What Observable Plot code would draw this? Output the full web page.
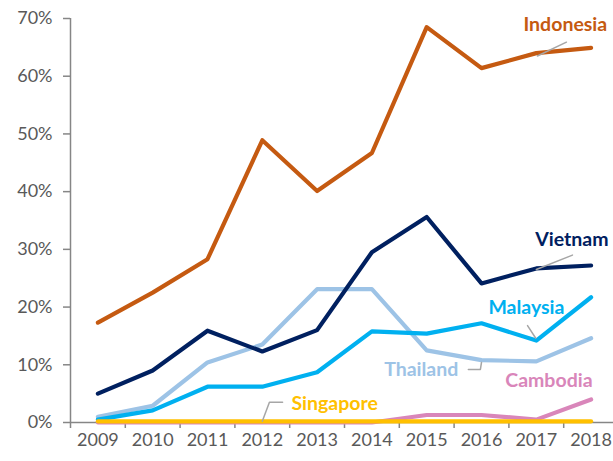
<!DOCTYPE html>
<html>
<head>
<meta charset="utf-8">
<script src="https://cdn.jsdelivr.net/npm/d3@7"></script>
<script src="https://cdn.jsdelivr.net/npm/@observablehq/plot@0.6"></script>
<style>
  html, body { margin: 0; padding: 0; background: #fff; }
</style>
</head>
<body>
<div id="chart"></div>
<script>
const years = [2009, 2010, 2011, 2012, 2013, 2014, 2015, 2016, 2017, 2018];
const indonesia = [0.173, 0.225, 0.283, 0.489, 0.401, 0.467, 0.685, 0.614, 0.640, 0.649];
const vietnam   = [0.050, 0.090, 0.159, 0.123, 0.160, 0.295, 0.356, 0.241, 0.267, 0.272];
const malaysia  = [0.005, 0.021, 0.062, 0.062, 0.087, 0.158, 0.154, 0.172, 0.142, 0.217];
const thailand  = [0.010, 0.029, 0.104, 0.135, 0.231, 0.231, 0.125, 0.108, 0.106, 0.146];
const cambodia  = [0.000, 0.000, 0.000, 0.000, 0.000, 0.000, 0.013, 0.013, 0.005, 0.040];
const singapore = [0.002, 0.002, 0.002, 0.002, 0.002, 0.002, 0.002, 0.002, 0.002, 0.002];

const yTicks = [0, 0.1, 0.2, 0.3, 0.4, 0.5, 0.6, 0.7];
const xBoundaries = [2008.5, 2009.5, 2010.5, 2011.5, 2012.5, 2013.5, 2014.5, 2015.5, 2016.5, 2017.5];

// draw order (bottom to top)
const seriesNames = ["Thailand", "Malaysia", "Vietnam", "Indonesia", "Cambodia", "Singapore"];
const seriesValues = [thailand, malaysia, vietnam, indonesia, cambodia, singapore];
const seriesColors = ["#9DC3E6", "#00B0F0", "#002060", "#C55A11", "#D986BA", "#FFC000"];

// label annotations (data coordinates)
const labelNames = ["Indonesia", "Vietnam", "Malaysia", "Thailand", "Cambodia", "Singapore"];
const labelX = [2017.53, 2017.65, 2016.82, 2014.90, 2017.23, 2013.32];
const labelY = [0.689, 0.317, 0.198, 0.092, 0.073, 0.033];
const labelColors = ["#C55A11", "#002060", "#00B0F0", "#9DC3E6", "#D986BA", "#FFC000"];

// leader lines (data coordinates)
const leaders = [
  [[2017.02, 0.635], [2017.55, 0.659]],
  [[2017.00, 0.265], [2017.66, 0.290]],
  [[2016.84, 0.168], [2016.99, 0.146]],
  [[2015.76, 0.092], [2015.98, 0.092], [2016.00, 0.104]],
  [[2012.00, 0.002], [2012.13, 0.035], [2012.37, 0.035]]
];

const lineData = seriesNames.flatMap((name, i) =>
  years.map((yr, j) => ({name, year: yr, value: seriesValues[i][j], order: i}))
);
const labelData = labelNames.map((name, i) => ({name, x: labelX[i], y: labelY[i], color: labelColors[i]}));
const leaderData = leaders.flatMap((pts, i) => pts.map(p => ({id: i, x: p[0], y: p[1]})));

const chart = Plot.plot({
  width: 613,
  height: 461,
  marginTop: 18,
  marginBottom: 39,
  marginLeft: 70,
  marginRight: 0,
  style: {fontFamily: "Lato, 'Liberation Sans', sans-serif", fontSize: "18px", background: "#fff"},
  x: {domain: [2008.5, 2018.5], range: [70, 618]},
  y: {domain: [0, 0.7]},
  marks: [
    Plot.ruleX([2008.5], {y1: 0, y2: 0.7, stroke: "#868686", strokeWidth: 1.5}),
    Plot.axisY({ticks: yTicks, tickFormat: d3.format(".0%"), tickSize: 7, tickPadding: 11,
      stroke: "#868686", strokeWidth: 1.5, fill: "#595959", fontSize: 18}),
    Plot.axisX({ticks: xBoundaries, tickFormat: () => "", tickSize: 6, stroke: "#868686", strokeWidth: 1.5}),
    Plot.axisX({ticks: years, tickFormat: d => String(d), tickSize: 0, tickPadding: 11, fill: "#595959", fontSize: 18}),
    Plot.ruleY([0], {x1: 2008.5, x2: 2018.5, stroke: "#868686", strokeWidth: 1.5}),
    ...seriesNames.map((name, i) =>
      Plot.line(lineData.filter(d => d.name === name), {
        x: "year", y: "value", stroke: seriesColors[i], strokeWidth: 4.2,
        strokeLinejoin: "round", strokeLinecap: "round"
      })
    ),
    Plot.line(leaderData, {x: "x", y: "y", z: "id", stroke: "#A6A6A6", strokeWidth: 1.5}),
    Plot.text(labelData, {x: "x", y: "y", text: "name", fill: "color", fontWeight: "bold", fontSize: 19.5})
  ]
});
document.getElementById("chart").appendChild(chart);
</script>
</body>
</html>
